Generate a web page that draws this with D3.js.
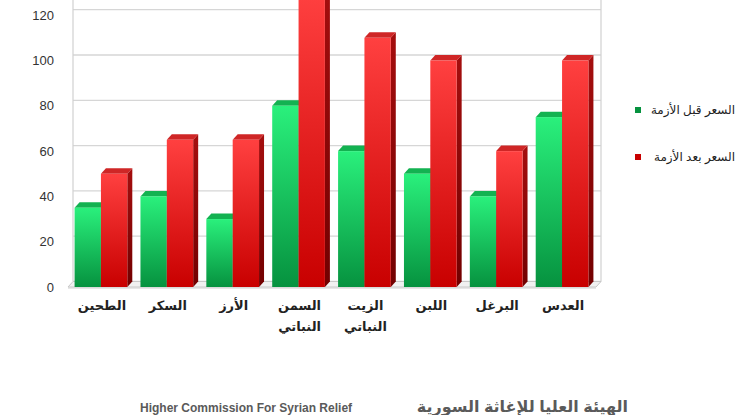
<!DOCTYPE html>
<html><head><meta charset="utf-8">
<script src="https://cdn.jsdelivr.net/npm/d3@7"></script>
<style>
html,body{margin:0;padding:0;background:#fff;}
svg{display:block;}
</style></head>
<body>
<svg id="c" width="750" height="415"></svg>
<script>
const categories = ["الطحين","السكر","الأرز","السمن النباتي","الزيت النباتي","اللبن","البرغل","العدس"];
const before = [35,40,30,80,60,50,40,75];
const after = [50,65,65,130,110,100,60,100];
const seriesNames = ["السعر قبل الأزمة","السعر بعد الأزمة"];
const yTicks = [0,20,40,60,80,100,120];
const footerEn = "Higher Commission For Syrian Relief";
const footerAr = "الهيئة العليا للإغاثة السورية";

const svg = d3.select("#c");
const FONT = "Arial, 'Liberation Sans', 'DejaVu Sans', sans-serif";
const dx = 5, dy = -5.5;
const y = d3.scaleLinear().domain([0,120]).range([287, 15.2]);
const x0 = d3.scaleBand().domain(categories).range([68, 595]).paddingInner(0.2).paddingOuter(0.1);
const x1 = d3.scaleBand().domain([0,1]).range([0, x0.bandwidth()]);
const series = [before, after];

const defs = svg.append("defs");
const palettes = [
  {front:["#2af07c","#06923f"], side:["#0d8a40","#055e2a"], top:"#13b251"},
  {front:["#ff4040","#c80000"], side:["#a50e0e","#720000"], top:"#cf2626"}
];
palettes.forEach((p,i)=>{
  const gf = defs.append("linearGradient").attr("id","f"+i).attr("x1",0).attr("y1",0).attr("x2",0).attr("y2",1);
  gf.append("stop").attr("offset","0%").attr("stop-color",p.front[0]);
  gf.append("stop").attr("offset","100%").attr("stop-color",p.front[1]);
  const gs = defs.append("linearGradient").attr("id","s"+i).attr("x1",0).attr("y1",0).attr("x2",0).attr("y2",1);
  gs.append("stop").attr("offset","0%").attr("stop-color",p.side[0]);
  gs.append("stop").attr("offset","100%").attr("stop-color",p.side[1]);
});

// back wall gridlines
const [xl, xr] = x0.range();
svg.append("g").selectAll("line").data(yTicks).join("line")
  .attr("x1", xl+dx).attr("x2", xr+dx+1)
  .attr("y1", d=>y(d)+dy).attr("y2", d=>y(d)+dy)
  .attr("stroke","#d6d6d6").attr("stroke-width",1.3);
// walls
svg.append("line").attr("x1",xl+dx).attr("x2",xl+dx).attr("y1",0).attr("y2",y(0)+dy).attr("stroke","#d0d0d0").attr("stroke-width",1.2);
svg.append("line").attr("x1",xr+dx+1).attr("x2",xr+dx+1).attr("y1",0).attr("y2",y(0)+dy).attr("stroke","#d0d0d0").attr("stroke-width",1.2);
// floor
svg.append("path")
  .attr("d", `M${xl},${y(0)} L${xl+dx},${y(0)+dy} L${xr+dx+1},${y(0)+dy} L${xr+1},${y(0)} Z`)
  .attr("fill","#f1f1f1").attr("stroke","#c8c8c8").attr("stroke-width",1);
svg.append("line").attr("x1",xl).attr("x2",xr+1).attr("y1",y(0)+1).attr("y2",y(0)+1).attr("stroke","#d0d0d0").attr("stroke-width",1);

// bars
const bars = svg.append("g");
categories.forEach((c,ci)=>{
  series.forEach((s,si)=>{
    const v = s[ci];
    const bx = x0(c) + x1(si), bw = x1.bandwidth();
    const by = y(v), b0 = y(0);
    const g = bars.append("g");
    g.append("path").attr("d",`M${bx+bw},${by} L${bx+bw+dx},${by+dy} L${bx+bw+dx},${b0+dy} L${bx+bw},${b0} Z`)
      .attr("fill",`url(#s${si})`);
    g.append("path").attr("d",`M${bx},${by} L${bx+dx},${by+dy} L${bx+bw+dx},${by+dy} L${bx+bw},${by} Z`)
      .attr("fill",palettes[si].top);
    g.append("rect").attr("x",bx).attr("y",by).attr("width",bw).attr("height",b0-by)
      .attr("fill",`url(#f${si})`);
  });
});

// y axis
const ya = svg.append("g").attr("transform","translate(58,0)")
  .call(d3.axisLeft(y).tickValues(yTicks).tickSize(0).tickPadding(4));
ya.select(".domain").remove();
ya.selectAll("text").attr("font-family",FONT).attr("font-size",13).attr("fill","#333");

// x labels
const xl2 = svg.append("g");
categories.forEach(c=>{
  const words = c.split(" ");
  const t = xl2.append("text").attr("x", x0(c)+x0.bandwidth()/2+1).attr("y",310)
    .attr("text-anchor","middle").attr("font-family",FONT).attr("font-size",13)
    .attr("font-weight","bold").attr("fill","#222");
  words.forEach((w,i)=>t.append("tspan").attr("x",x0(c)+x0.bandwidth()/2+1).attr("dy", i? 21:0).text(w));
});

// legend
const leg = svg.append("g");
seriesNames.forEach((n,i)=>{
  const ly = 110 + i*47;
  leg.append("rect").attr("x",635).attr("y",ly-3).attr("width",6).attr("height",6).attr("fill",palettes[i].front[1]);
  leg.append("text").attr("x",735).attr("y",ly+4).attr("text-anchor","end")
    .attr("font-family",FONT).attr("font-size",12).attr("fill","#222").text(n);
});

// footer
svg.append("text").attr("x",140).attr("y",412).attr("font-family",FONT).attr("font-size",12)
  .attr("font-weight","bold").attr("fill","#5a5a5a").text(footerEn);
svg.append("text").attr("x",628).attr("y",412).attr("text-anchor","end").attr("font-family",FONT).attr("font-size",16)
  .attr("font-weight","bold").attr("fill","#5a5a5a").text(footerAr);
</script>
</body></html>
